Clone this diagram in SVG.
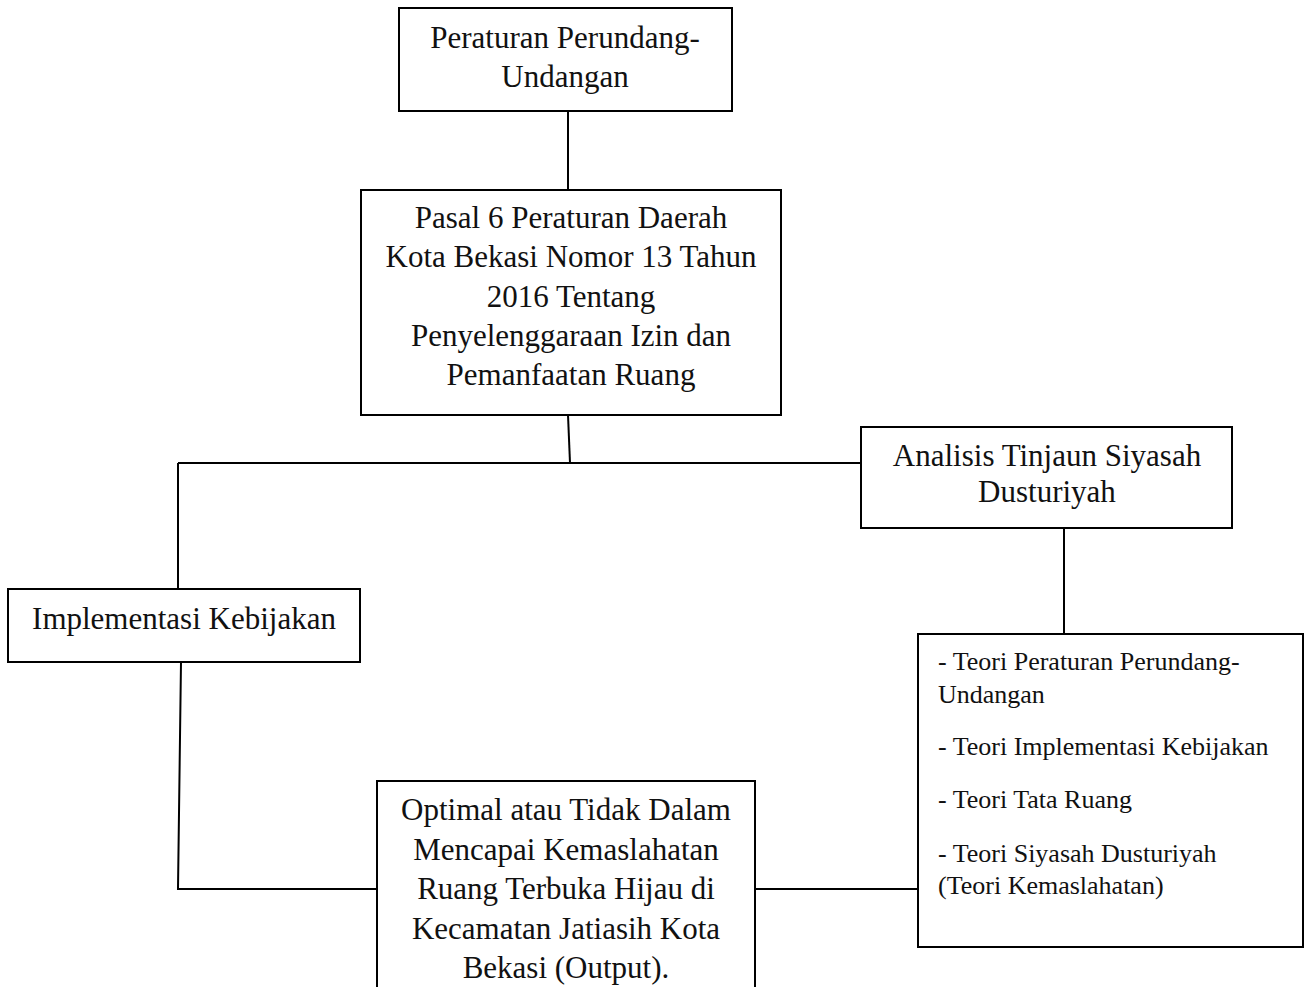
<svg xmlns="http://www.w3.org/2000/svg" width="1304" height="987" viewBox="0 0 1304 987">
<style>
.box{fill:#fff;stroke:#000;stroke-width:2}
.conn{fill:none;stroke:#000;stroke-width:2}
.t{font-family:"Liberation Serif","Times New Roman",serif;font-size:31px;fill:#111;text-anchor:middle}
.s{font-family:"Liberation Serif","Times New Roman",serif;font-size:26px;fill:#111}
</style>
<rect width="1304" height="987" fill="#fff"/>
<g id="connectors">
<path class="conn" d="M568,111 L568,190"/>
<path class="conn" d="M568,415 L570,463"/>
<path class="conn" d="M178,463 L861,463"/>
<path class="conn" d="M178,463 L178,589"/>
<path class="conn" d="M181,662 L178,889 L377,889"/>
<path class="conn" d="M755,889 L918,889"/>
<path class="conn" d="M1064,528 L1064,634"/>
</g>
<g id="n1">
<rect class="box" x="399" y="8" width="333" height="103"/>
<text class="t" x="565" y="48">Peraturan Perundang-</text>
<text class="t" x="565" y="87">Undangan</text>
</g>
<g id="n2">
<rect class="box" x="361" y="190" width="420" height="225"/>
<text class="t" x="571" y="228">Pasal 6 Peraturan Daerah</text>
<text class="t" x="571" y="267">Kota Bekasi Nomor 13 Tahun</text>
<text class="t" x="571" y="307">2016 Tentang</text>
<text class="t" x="571" y="346">Penyelenggaraan Izin dan</text>
<text class="t" x="571" y="385">Pemanfaatan Ruang</text>
</g>
<g id="n3">
<rect class="box" x="861" y="427" width="371" height="101"/>
<text class="t" x="1047" y="466">Analisis Tinjaun Siyasah</text>
<text class="t" x="1047" y="502">Dusturiyah</text>
</g>
<g id="n4">
<rect class="box" x="8" y="589" width="352" height="73"/>
<text class="t" x="184" y="629">Implementasi Kebijakan</text>
</g>
<g id="n5">
<rect class="box" x="918" y="634" width="385" height="313"/>
<text class="s" x="938" y="670">- Teori Peraturan Perundang-</text>
<text class="s" x="938" y="703">Undangan</text>
<text class="s" x="938" y="755">- Teori Implementasi Kebijakan</text>
<text class="s" x="938" y="808">- Teori Tata Ruang</text>
<text class="s" x="938" y="862">- Teori Siyasah Dusturiyah</text>
<text class="s" x="938" y="894">(Teori Kemaslahatan)</text>
</g>
<g id="n6">
<rect class="box" x="377" y="781" width="378" height="230"/>
<text class="t" x="566" y="820">Optimal atau Tidak Dalam</text>
<text class="t" x="566" y="860">Mencapai Kemaslahatan</text>
<text class="t" x="566" y="899">Ruang Terbuka Hijau di</text>
<text class="t" x="566" y="939">Kecamatan Jatiasih Kota</text>
<text class="t" x="566" y="978">Bekasi (Output).</text>
</g>
</svg>
